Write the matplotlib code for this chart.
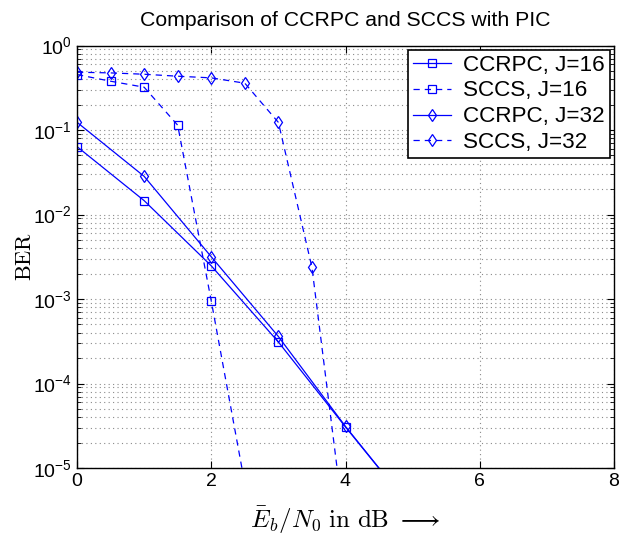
import matplotlib
matplotlib.use('Agg')
from matplotlib import pyplot as plt
from matplotlib.ticker import LogLocator, NullFormatter
import numpy as np

# Eb/N0 in dB
snr_ccrpc = [0, 1, 2, 3, 4, 5]
snr_sccs16 = [0, 0.5, 1, 1.5, 2, 2.5]
snr_sccs32 = [0, 0.5, 1, 1.5, 2, 2.5, 3, 3.5, 4]

# BER values
ber_ccrpc16 = [0.0636, 0.0146, 0.00247, 3.1e-4, 3.06e-5, 3.2e-6]
ber_sccs16 = [0.453, 0.378, 0.321, 0.114, 9.5e-4, 6.5e-6]
ber_ccrpc32 = [0.1235, 0.0283, 0.00316, 3.6e-4, 3.1e-5, 3.2e-6]
ber_sccs32 = [0.483, 0.474, 0.457, 0.433, 0.414, 0.358, 0.123, 0.00237, 1.6e-6]

plt.rcParams['font.family'] = ['Liberation Sans', 'DejaVu Sans']
plt.rcParams['mathtext.fontset'] = 'cm'

fig = plt.figure(figsize=(6.32, 5.47), dpi=100)
ax = fig.add_axes([77 / 632, 1 - 468 / 547, (614 - 77) / 632, (468 - 45.5) / 547])

blue = (0, 0, 1)
kw = dict(color=blue, linewidth=0.9, markersize=6, markerfacecolor='none',
          markeredgewidth=0.9)
ax.semilogy(snr_ccrpc, ber_ccrpc16, '-s', label='CCRPC, J=16', **kw)
ax.semilogy(snr_sccs16, ber_sccs16, '--s', label='SCCS, J=16', dashes=(5, 4), **kw)
ax.semilogy(snr_ccrpc, ber_ccrpc32, '-d', label='CCRPC, J=32', **kw)
ax.semilogy(snr_sccs32, ber_sccs32, '--d', label='SCCS, J=32', dashes=(5, 4), **kw)

ax.set_xlim(0, 8)
ax.set_ylim(1e-5, 1)
ax.set_xticks([0, 2, 4, 6, 8])
ax.yaxis.set_minor_locator(LogLocator(base=10, subs=np.arange(2, 10), numticks=20))
ax.yaxis.set_minor_formatter(NullFormatter())

ax.grid(True, which='major', linestyle=(0, (1, 3)), color='#8a8a8a', linewidth=0.8)
ax.grid(True, which='minor', axis='y', linestyle=(0, (1, 3)), color='#8a8a8a', linewidth=0.8)

ax.tick_params(which='both', direction='in', top=True, right=True, labelsize=14)
ax.tick_params(which='major', length=5)
ax.tick_params(which='minor', length=3)
for s in ax.spines.values():
    s.set_linewidth(1.0)

ax.set_title('Comparison of CCRPC and SCCS with PIC', fontsize=15.3, pad=14)
ax.set_xlabel(r'$\bar{E}_b/N_0\ \mathrm{in\ dB}\ \longrightarrow$', fontsize=18, labelpad=10)
ax.set_ylabel(r'$\mathrm{BER}$', fontsize=16, labelpad=-2)

leg = ax.legend(loc='upper right', fontsize=16.2, fancybox=False, framealpha=1,
                edgecolor='black', borderpad=0.2, labelspacing=0.22,
                handlelength=1.7, handletextpad=0.55, borderaxespad=0.2)
leg.get_frame().set_linewidth(1.2)

fig.savefig('out.png', dpi=100)
